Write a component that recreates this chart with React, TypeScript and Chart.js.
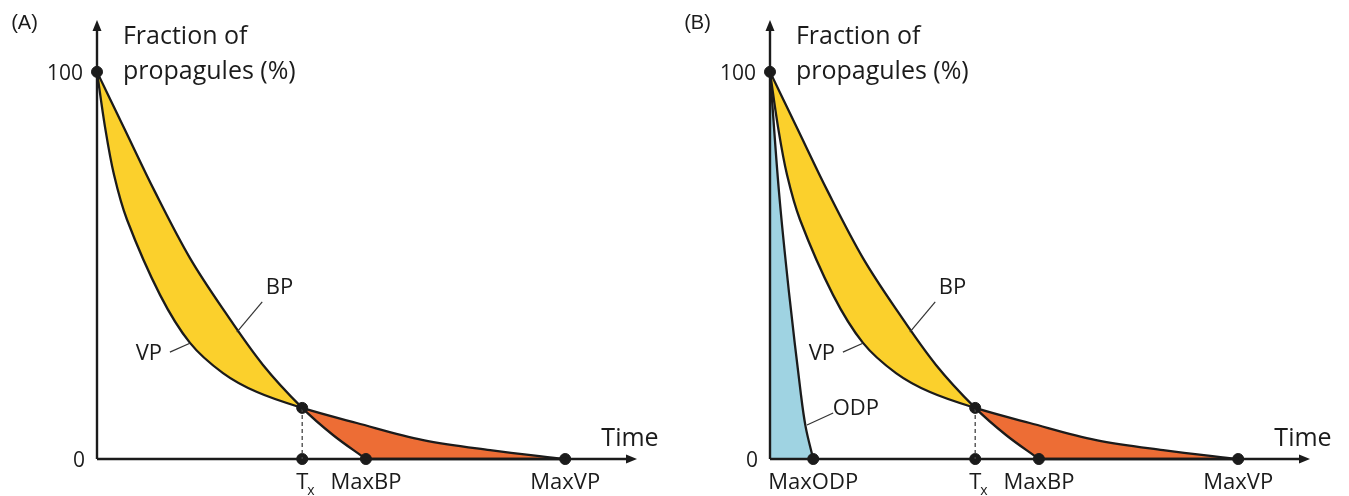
import React, { useEffect, useRef } from 'react';
import { Chart, registerables } from 'chart.js';

Chart.register(...registerables);

// ---- data (time in arbitrary units, fraction of propagules in %) ----
// BP: after MaxBP it runs along the time axis (0 %) to MaxVP; the repeated MaxBP point marks the corner.
const bpTime = [0, 5.19, 10.74, 17.22, 23.7, 30.74, 38, 43.7, 49.8, 49.8, 86.7];
const bpValue = [100, 85.0, 69.0, 51.9, 38.0, 24.3, 13.2, 6.2, 0, 0, 0];

const vpTime = [0, 1.48, 3.15, 5.56, 11.67, 17.22, 23.33, 29.63, 38, 48.1, 60.4, 72.8, 86.7];
const vpValue = [100, 85.8, 73.4, 61.8, 42.4, 30.0, 22.2, 17.3, 13.2, 9.3, 4.9, 2.3, 0];

const odpTime = [0, 1.67, 3.52, 5.69, 6.6, 8.0];
const odpValue = [100, 68.9, 43.0, 17.1, 8.3, 0];

const txTime = 38;
const txValue = 13.2;
const maxBP = 49.8;
const maxVP = 86.7;
const maxODP = 8.0;

const yTickValues = [0, 100];
const yTickLabels = ['0', '100'];

const xTickLabelsA = ['Tx', 'MaxBP', 'MaxVP'];
const xTickValuesA = [txTime, maxBP, maxVP];
const xTickLabelsB = ['MaxODP', 'Tx', 'MaxBP', 'MaxVP'];
const xTickValuesB = [maxODP, txTime, maxBP, maxVP];

const YELLOW = '#FBD02C';
const ORANGE = '#ED6D35';
const BLUE = '#9FD3E2';
const INK = '#1b1b1b';
const FONT = '"Open Sans", "Liberation Sans", sans-serif';

const X_MAX = 100;
const Y_MAX = 113.4;
const TENSION = 0.35;

type Panel = 'A' | 'B';

function makePlugin(panel: Panel) {
  return {
    id: 'diagram' + panel,
    beforeDatasetsDraw(chart: any) {
      const { ctx } = chart;
      const xs = chart.scales.x;
      const ys = chart.scales.y;
      const x0 = xs.getPixelForValue(0);
      const y0 = ys.getPixelForValue(0);
      const yTop = ys.getPixelForValue(Y_MAX);
      const xEnd = xs.getPixelForValue(X_MAX);
      ctx.save();
      ctx.strokeStyle = INK;
      ctx.fillStyle = INK;
      ctx.lineWidth = 2.4;
      ctx.beginPath();
      ctx.moveTo(x0, y0);
      ctx.lineTo(x0, yTop + 8);
      ctx.stroke();
      ctx.beginPath();
      ctx.moveTo(x0, yTop);
      ctx.lineTo(x0 - 4.5, yTop + 11);
      ctx.lineTo(x0 + 4.5, yTop + 11);
      ctx.closePath();
      ctx.fill();
      ctx.beginPath();
      ctx.moveTo(x0, y0);
      ctx.lineTo(xEnd - 8, y0);
      ctx.stroke();
      ctx.beginPath();
      ctx.moveTo(xEnd, y0);
      ctx.lineTo(xEnd - 11, y0 - 4.5);
      ctx.lineTo(xEnd - 11, y0 + 4.5);
      ctx.closePath();
      ctx.fill();
      ctx.restore();
    },
    afterDatasetsDraw(chart: any) {
      const { ctx } = chart;
      const xs = chart.scales.x;
      const ys = chart.scales.y;
      const px = (v: number) => xs.getPixelForValue(v);
      const py = (v: number) => ys.getPixelForValue(v);
      ctx.save();
      ctx.fillStyle = INK;

      // panel letter
      ctx.textBaseline = 'middle';
      ctx.font = `20px "Liberation Sans", Arial, sans-serif`;
      ctx.textAlign = 'left';
      ctx.fillText(panel === 'A' ? '(A)' : '(B)', px(-15.9), py(112.6));

      // axis titles
      ctx.textBaseline = 'alphabetic';
      ctx.font = `25px ${FONT}`;
      ctx.fillText('Fraction of', px(4.8), py(107.2));
      ctx.fillText('propagules (%)', px(4.8), py(98.2));
      ctx.fillText('Time', px(93.4), py(3.4));

      // y ticks
      ctx.textBaseline = 'middle';
      ctx.font = `21px ${FONT}`;
      ctx.textAlign = 'right';
      yTickValues.forEach((v, i) => {
        const off = v === 0 ? 12 : 14;
        ctx.fillText(yTickLabels[i], px(0) - off, py(v) + 2);
      });

      // x ticks
      ctx.font = `22px ${FONT}`;
      const labels = panel === 'A' ? xTickLabelsA : xTickLabelsB;
      const values = panel === 'A' ? xTickValuesA : xTickValuesB;
      const ly = py(0) + 24;
      labels.forEach((lab, i) => {
        const cx = px(values[i]);
        if (lab === 'Tx') {
          ctx.textAlign = 'center';
          ctx.fillText('T', cx, ly);
          ctx.font = `14px ${FONT}`;
          ctx.textAlign = 'left';
          ctx.fillText('x', cx + 5, ly + 8);
          ctx.font = `22px ${FONT}`;
        } else {
          ctx.textAlign = 'center';
          ctx.fillText(lab, cx, ly);
        }
      });

      // curve labels with leader lines
      const leaders: [string, number, number, number, number, number, number][] = [
        ['BP', 33.8, 44.2, 30.6, 40.6, 25.9, 32.8],
        ['VP', 9.6, 27.1, 13.5, 27.6, 17.2, 29.9],
      ];
      if (panel === 'B') leaders.push(['ODP', 15.9, 12.9, 11.7, 11.9, 6.85, 8.8]);
      ctx.font = `22px ${FONT}`;
      ctx.textAlign = 'center';
      ctx.strokeStyle = '#333';
      ctx.lineWidth = 1.2;
      leaders.forEach(([t, tx, ty, ax, ay, bx, by]) => {
        ctx.fillText(t, px(tx), py(ty));
        ctx.beginPath();
        ctx.moveTo(px(ax), py(ay));
        ctx.lineTo(px(bx), py(by));
        ctx.stroke();
      });
      ctx.restore();
    },
  };
}

function toXY(t: number[], v: number[]) {
  return t.map((x, i) => ({ x, y: v[i] }));
}

function buildChart(canvas: HTMLCanvasElement, panel: Panel, rightPad: number) {
  const datasets: any[] = [];
  if (panel === 'B') {
    datasets.push({
      label: 'ODP',
      data: toXY(odpTime, odpValue),
      borderColor: INK,
      borderWidth: 2.3,
      backgroundColor: BLUE,
      fill: 'origin',
      pointRadius: 0,
      tension: TENSION,
      clip: false,
    });
  }
  const vpIndex = datasets.length + 1;
  datasets.push({
    label: 'BP',
    data: toXY(bpTime, bpValue),
    borderColor: INK,
    borderWidth: 2.3,
    fill: { target: vpIndex, above: YELLOW, below: ORANGE },
    pointRadius: 0,
    tension: TENSION,
    clip: false,
  });
  datasets.push({
    label: 'VP',
    data: toXY(vpTime, vpValue),
    borderColor: INK,
    borderWidth: 2.3,
    fill: false,
    pointRadius: 0,
    tension: TENSION,
    clip: false,
  });
  datasets.push({
    label: 'Tx guide',
    data: [
      { x: txTime, y: txValue },
      { x: txTime, y: 0 },
    ],
    borderColor: '#444',
    borderWidth: 1.3,
    borderDash: [4, 3],
    pointRadius: 0,
    fill: false,
    clip: false,
  });
  const dots = [
    { x: 0, y: 100 },
    { x: txTime, y: txValue },
    { x: txTime, y: 0 },
    { x: maxBP, y: 0 },
    { x: maxVP, y: 0 },
  ];
  if (panel === 'B') dots.push({ x: maxODP, y: 0 });
  datasets.push({
    type: 'scatter',
    label: 'key points',
    data: dots,
    pointRadius: 5.5,
    pointBackgroundColor: INK,
    pointBorderColor: INK,
    showLine: false,
    clip: false,
  });

  return new Chart(canvas, {
    type: 'line',
    data: { datasets },
    options: {
      animation: false,
      responsive: false,
      devicePixelRatio: 1,
      layout: { padding: { left: 97, right: rightPad, top: 20, bottom: 37 } },
      plugins: {
        legend: { display: false },
        tooltip: { enabled: false },
        filler: { drawTime: 'beforeDatasetsDraw' },
      },
      scales: {
        x: { type: 'linear', min: 0, max: X_MAX, display: false },
        y: { type: 'linear', min: 0, max: Y_MAX, display: false },
      },
    },
    plugins: [makePlugin(panel)],
  } as any);
}

export default function App() {
  const refA = useRef<HTMLCanvasElement>(null);
  const refB = useRef<HTMLCanvasElement>(null);
  useEffect(() => {
    const a = buildChart(refA.current!, 'A', 36);
    const b = buildChart(refB.current!, 'B', 39);
    return () => {
      a.destroy();
      b.destroy();
    };
  }, []);
  return (
    <div style={{ position: 'absolute', left: 0, top: 0, width: 1349, height: 496, background: '#fff' }}>
      <canvas ref={refA} width={673} height={496} style={{ position: 'absolute', left: 0, top: 0, width: 673, height: 496 }} />
      <canvas ref={refB} width={676} height={496} style={{ position: 'absolute', left: 673, top: 0, width: 676, height: 496 }} />
    </div>
  );
}
